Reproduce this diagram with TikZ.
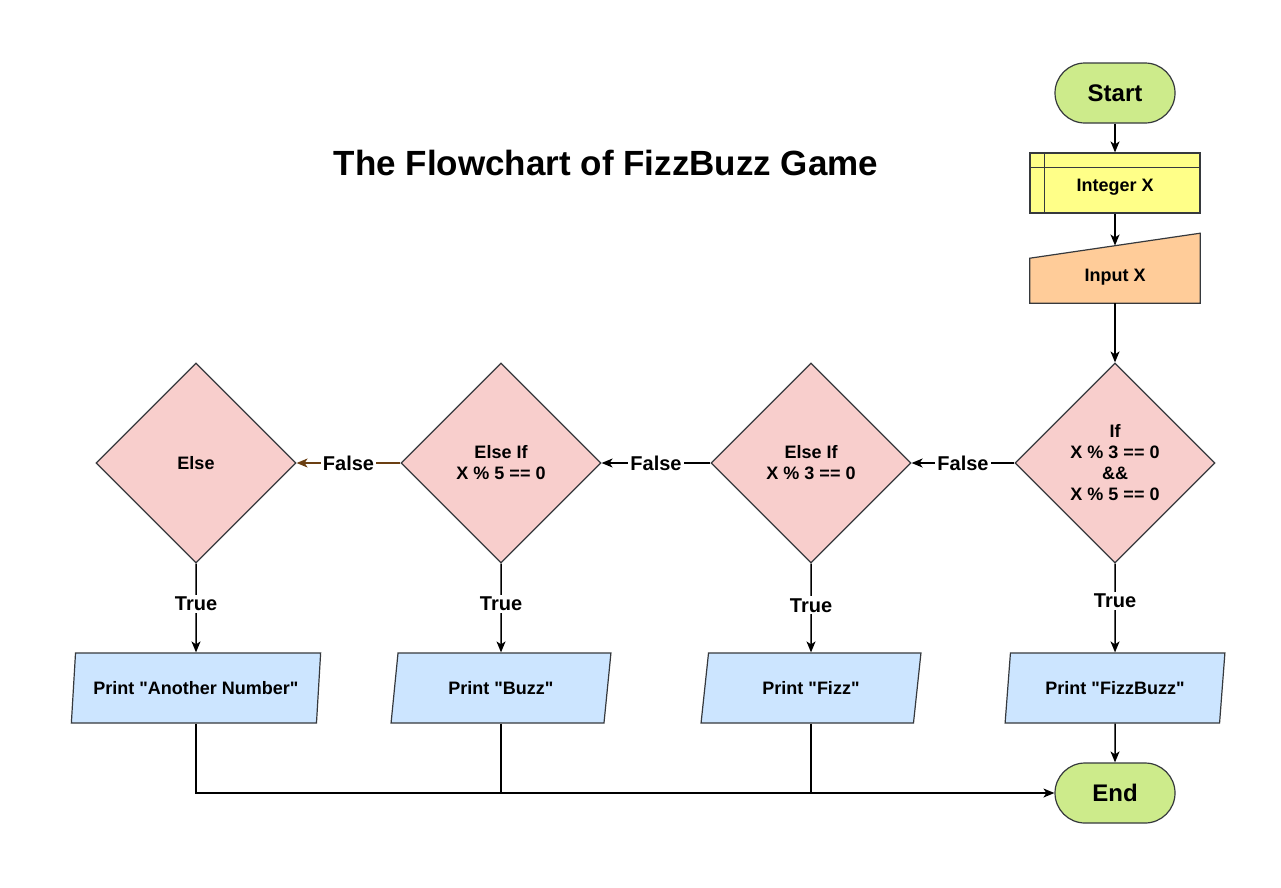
\documentclass[tikz,border=0pt]{standalone}
\usepackage{fontspec}
\setmainfont{Liberation Sans}[Ligatures=TeXOff]
\usetikzlibrary{shapes.geometric,arrows.meta,backgrounds}
\definecolor{termfill}{HTML}{CDEB8B}
\definecolor{declfill}{HTML}{FFFF88}
\definecolor{inpfill}{HTML}{FFCC99}
\definecolor{decfill}{HTML}{F8CECC}
\definecolor{prfill}{HTML}{CCE5FF}
\definecolor{edgeline}{HTML}{36393D}
\definecolor{brownline}{HTML}{6B3F12}
\begin{document}
\begin{tikzpicture}[x=1pt,y=-1pt,
 font=\fontsize{18}{21}\selectfont\bfseries,
 term/.style={draw=edgeline,fill=termfill,line width=1.2pt,rounded corners=30pt,minimum width=120pt,minimum height=60pt,inner sep=0pt,font=\fontsize{24}{28}\selectfont\bfseries},
 decide/.style={diamond,draw=edgeline,fill=decfill,line width=1.2pt,minimum width=200pt,minimum height=200pt,inner sep=0pt,align=center},
 printbox/.style={trapezium,trapezium left angle=75,trapezium right angle=105,trapezium stretches=true,draw=edgeline,fill=prfill,line width=1.2pt,minimum width=220pt,minimum height=70pt,inner sep=0pt},
 declbox/.style={draw=edgeline,fill=declfill,line width=1.2pt,minimum width=170pt,minimum height=60pt,inner sep=0pt,text height=17pt,text depth=0pt},
 inpslot/.style={minimum width=170pt,minimum height=60pt,inner sep=0pt,text height=17pt,text depth=0pt},
 conn/.style={line width=1.5pt,-{Stealth[length=11pt,width=9pt,inset=3pt]}},
 plainline/.style={line width=1.5pt},
 lbl/.style={fill=white,inner sep=2pt,font=\fontsize{20}{24}\selectfont\bfseries},
]
\useasboundingbox (0,0) rectangle (1281,887);
\begin{scope}[on background layer]
\fill[white] (0,0) rectangle (1281,887);
\end{scope}

% title
\node[font=\fontsize{35}{42}\selectfont\bfseries] (title) at (606,163) {The Flowchart of FizzBuzz Game};

% top column
\node[term] (start) at (1115,93) {Start};
\node[declbox] (decl) at (1115,183) {Integer X};
\draw[edgeline,line width=1.2pt] ([xshift=15pt]decl.north west) -- ([xshift=15pt]decl.south west);
\draw[edgeline,line width=1.2pt] ([yshift=-15pt]decl.north west) -- ([yshift=-15pt]decl.north east);
\node[inpslot] (inp) at (1115,273) {Input X};
\begin{scope}[on background layer]
\draw[edgeline,fill=inpfill,line width=1.2pt] (inp.south west) -- ([yshift=45pt]inp.south west) -- ([yshift=70pt]inp.south east) -- (inp.south east) -- cycle;
\end{scope}
\coordinate (inptop) at (1115,245.5);

% decisions
\node[decide] (d1) at (1115,463) {If\\X \% 3 == 0\\\&\&\\X \% 5 == 0};
\node[decide] (d2) at (811,463) {Else If\\X \% 3 == 0};
\node[decide] (d3) at (501,463) {Else If\\X \% 5 == 0};
\node[decide] (d4) at (196,463) {Else};

% prints
\node[printbox] (pfb) at (1115,688) {Print "FizzBuzz"};
\node[printbox] (pfizz) at (811,688) {Print "Fizz"};
\node[printbox] (pbuzz) at (501,688) {Print "Buzz"};
\node[printbox,minimum width=250pt] (panum) at (196,688) {Print "Another Number"};

\node[term] (endn) at (1115,793) {End};

% connectors
\draw[conn] (start) -- (decl);
\draw[conn] (decl) -- (inptop);
\draw[conn] (inp.south) -- (d1.north);
\draw[conn] (d1.west) -- node[lbl] {False} (d2.east);
\draw[conn] (d2.west) -- node[lbl] {False} (d3.east);
\draw[conn,draw=brownline,fill=brownline] (d3.west) -- node[lbl,text=black] {False} (d4.east);
\draw[conn] (d1.south) -- node[lbl,pos=0.42] {True} (pfb.north);
\draw[conn] (d2.south) -- node[lbl,pos=0.47] {True} (pfizz.north);
\draw[conn] (d3.south) -- node[lbl,pos=0.45] {True} (pbuzz.north);
\draw[conn] (d4.south) -- node[lbl,pos=0.45] {True} (panum.north);
\draw[conn] (pfb.south) -- (endn.north);
\draw[conn] (panum.south) |- (endn.west);
\draw[plainline] (pbuzz.south) -- (pbuzz.south |- endn.west);
\draw[plainline] (pfizz.south) -- (pfizz.south |- endn.west);
\end{tikzpicture}
\end{document}
